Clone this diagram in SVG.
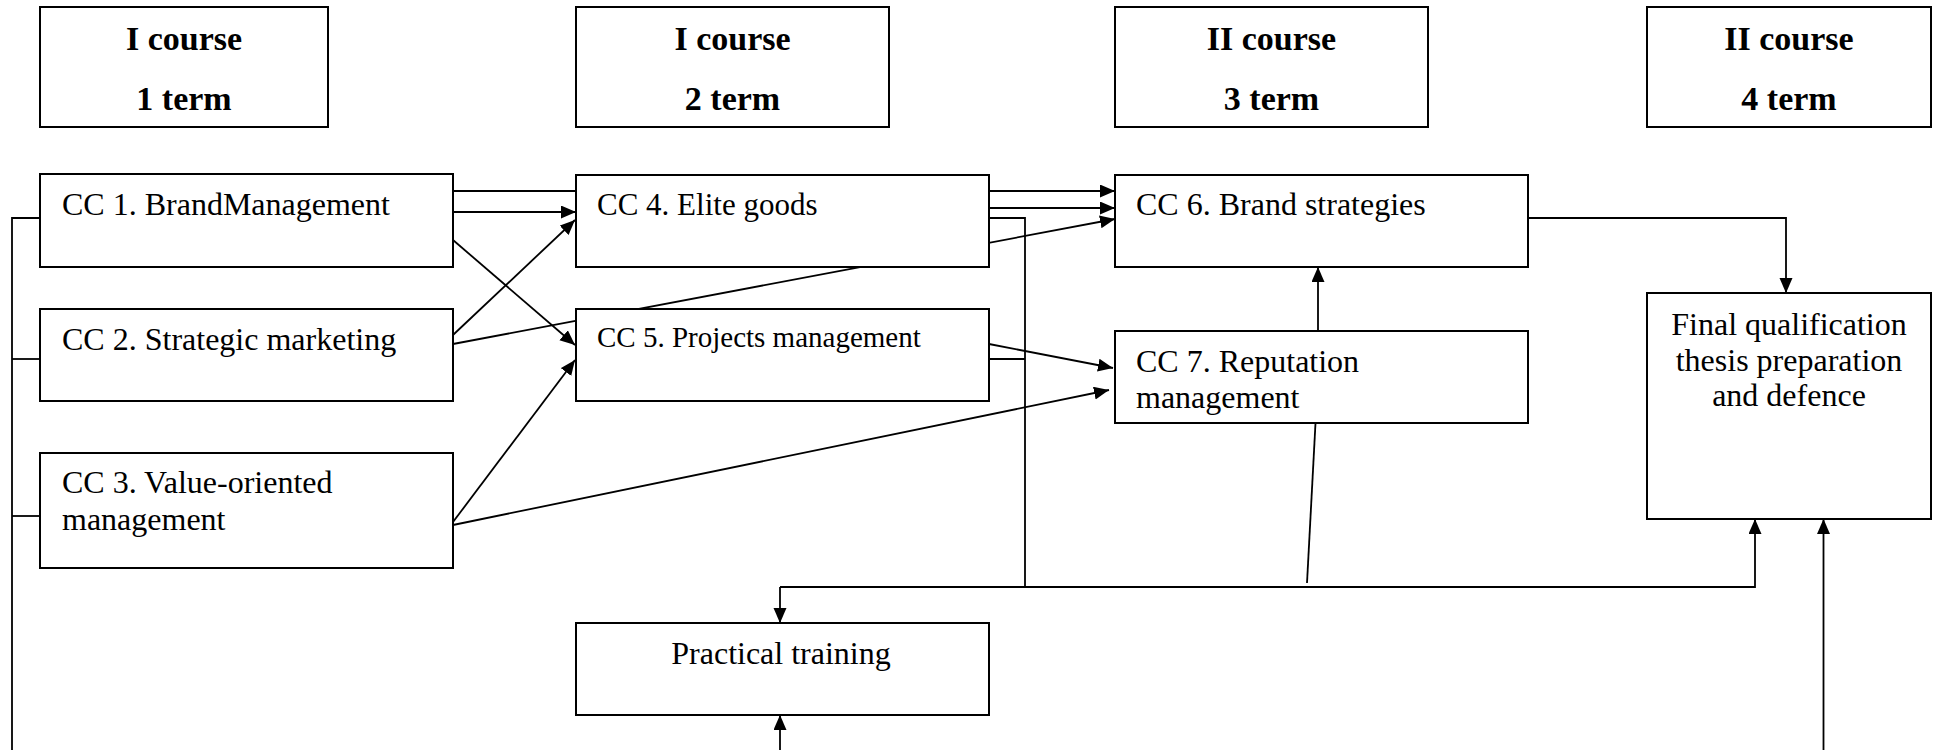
<svg xmlns="http://www.w3.org/2000/svg" width="1936" height="750" viewBox="0 0 1936 750">
<style>
.box{fill:#fff;stroke:#000;stroke-width:2}
.hd{font-family:"Liberation Serif","Times New Roman",serif;font-weight:bold;font-size:34px;fill:#000;text-anchor:middle}
.t{font-family:"Liberation Serif","Times New Roman",serif;font-size:32px;fill:#000}
.c{text-anchor:middle}
.ln{fill:none;stroke:#000;stroke-width:1.8}
.ar{marker-end:url(#ah)}
</style>
<defs>
<marker id="ah" markerUnits="userSpaceOnUse" markerWidth="16" markerHeight="14" refX="15" refY="6.5" orient="auto">
<path d="M0,0 L15,6.5 L0,13 z" fill="#000"/>
</marker>
</defs>
<rect width="1936" height="750" fill="#fff"/>
<g id="connectors">
<polyline class="ln" points="12,750 12,218 40,218"/>
<line class="ln" x1="12" y1="359" x2="40" y2="359"/>
<line class="ln" x1="12" y1="516" x2="40" y2="516"/>
<line class="ln ar" x1="453" y1="191" x2="1115" y2="191"/>
<line class="ln ar" x1="453" y1="212" x2="576" y2="212"/>
<line class="ln ar" x1="453" y1="240" x2="575" y2="345"/>
<line class="ln ar" x1="453" y1="335" x2="575" y2="220"/>
<line class="ln ar" x1="453" y1="344" x2="1115" y2="219"/>
<line class="ln ar" x1="453" y1="522" x2="575" y2="360"/>
<line class="ln ar" x1="453" y1="525" x2="1109" y2="390"/>
<line class="ln ar" x1="989" y1="208" x2="1115" y2="208"/>
<polyline class="ln" points="989,218 1025,218 1025,587"/>
<line class="ln" x1="989" y1="359" x2="1025" y2="359"/>
<line class="ln ar" x1="989" y1="344" x2="1113" y2="368"/>
<polyline class="ln ar" points="1528,218 1786,218 1786,293"/>
<line class="ln ar" x1="1318" y1="331" x2="1318" y2="267"/>
<line class="ln" x1="1315.5" y1="423" x2="1307" y2="583"/>
<polyline class="ln ar" points="780,587 1755,587 1755,519"/>
<line class="ln ar" x1="780" y1="587" x2="780" y2="623"/>
<line class="ln ar" x1="780" y1="750" x2="780" y2="715"/>
<line class="ln ar" x1="1823.5" y1="750" x2="1823.5" y2="519"/>
</g>
<g id="term1">
<rect class="box" x="40" y="7" width="288" height="120"/>
<text class="hd" x="184" y="50">I course</text>
<text class="hd" x="184" y="110">1 term</text>
</g>
<g id="term2">
<rect class="box" x="576" y="7" width="313" height="120"/>
<text class="hd" x="732.5" y="50">I course</text>
<text class="hd" x="732.5" y="110">2 term</text>
</g>
<g id="term3">
<rect class="box" x="1115" y="7" width="313" height="120"/>
<text class="hd" x="1271.5" y="50">II course</text>
<text class="hd" x="1271.5" y="110">3 term</text>
</g>
<g id="term4">
<rect class="box" x="1647" y="7" width="284" height="120"/>
<text class="hd" x="1789" y="50">II course</text>
<text class="hd" x="1789" y="110">4 term</text>
</g>
<g id="cc1">
<rect class="box" x="40" y="174" width="413" height="93"/>
<text class="t" x="62" y="215">CC 1. BrandManagement</text>
</g>
<g id="cc2">
<rect class="box" x="40" y="309" width="413" height="92"/>
<text class="t" x="62" y="350">CC 2. Strategic marketing</text>
</g>
<g id="cc3">
<rect class="box" x="40" y="453" width="413" height="115"/>
<text class="t" x="62" y="493">CC 3. Value-oriented</text>
<text class="t" x="62" y="530">management</text>
</g>
<g id="cc4">
<rect class="box" x="576" y="175" width="413" height="92"/>
<text class="t" x="597" y="215" style="font-size:31px">CC 4. Elite goods</text>
</g>
<g id="cc5">
<rect class="box" x="576" y="309" width="413" height="92"/>
<text class="t" x="597" y="347" style="font-size:29px">CC 5. Projects management</text>
</g>
<g id="cc6">
<rect class="box" x="1115" y="175" width="413" height="92"/>
<text class="t" x="1136" y="215">CC 6. Brand strategies</text>
</g>
<g id="cc7">
<rect class="box" x="1115" y="331" width="413" height="92"/>
<text class="t" x="1136" y="372">CC 7. Reputation</text>
<text class="t" x="1136" y="408">management</text>
</g>
<g id="final">
<rect class="box" x="1647" y="293" width="284" height="226"/>
<text class="t c" x="1789" y="335">Final qualification</text>
<text class="t c" x="1789" y="370.5">thesis preparation</text>
<text class="t c" x="1789" y="406">and defence</text>
</g>
<g id="practical">
<rect class="box" x="576" y="623" width="413" height="92"/>
<text class="t c" x="781" y="664">Practical training</text>
</g>
</svg>
